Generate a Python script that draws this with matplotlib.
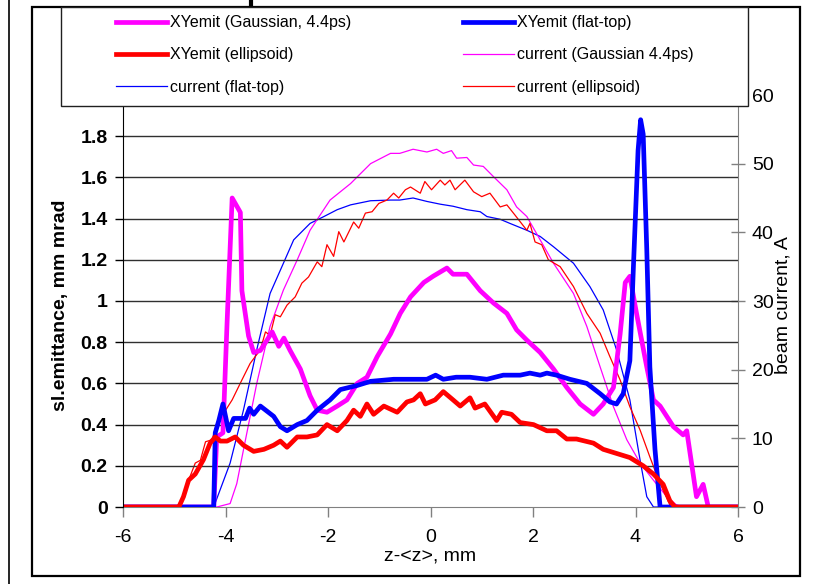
import numpy as np
import matplotlib
matplotlib.use("Agg")
import matplotlib.pyplot as plt
from matplotlib.lines import Line2D
from matplotlib.patches import Rectangle

plt.rcParams['font.family'] = ['Liberation Sans', 'DejaVu Sans']
plt.rcParams['axes.unicode_minus'] = False

# slice emittance, mm mrad
z_emit_gauss = [-6, -4.23, -4.17, -4.05, -3.97, -3.87, -3.71, -3.68, -3.55, -3.45, -3.32, -3.19, -3.09, -2.96,
                -2.86, -2.74, -2.54, -2.35, -2.21, -2.02, -1.82, -1.63, -1.43, -1.24, -1.04, -0.78, -0.59, -0.39,
                -0.13, 0.05, 0.32, 0.44, 0.71, 0.97, 1.23, 1.49, 1.68, 1.88, 2.14, 2.40, 2.66, 2.92, 3.18, 3.37,
                3.57, 3.70, 3.80, 3.89, 4.02, 4.22, 4.35, 4.48, 4.74, 4.93, 5.00, 5.19, 5.32, 5.42, 6]
emit_gauss = [0, 0, 0.34, 0.36, 0.89, 1.50, 1.43, 1.05, 0.83, 0.75, 0.76, 0.81, 0.85, 0.78,
              0.82, 0.76, 0.67, 0.54, 0.47, 0.46, 0.49, 0.52, 0.60, 0.63, 0.73, 0.84, 0.94, 1.02,
              1.09, 1.12, 1.16, 1.13, 1.13, 1.05, 0.99, 0.94, 0.86, 0.81, 0.75, 0.67, 0.58, 0.50, 0.45, 0.50,
              0.58, 0.84, 1.09, 1.12, 0.94, 0.68, 0.52, 0.49, 0.39, 0.35, 0.37, 0.05, 0.11, 0, 0]

z_emit_flat = [-6, -4.23, -4.20, -4.13, -4.05, -3.94, -3.84, -3.61, -3.53, -3.45, -3.32, -3.06, -2.93, -2.80,
               -2.60, -2.41, -2.21, -1.96, -1.76, -1.43, -1.17, -0.72, -0.33, -0.07, 0.10, 0.25, 0.50, 0.77,
               1.10, 1.42, 1.75, 1.94, 2.14, 2.27, 2.46, 2.72, 3.05, 3.31, 3.50, 3.63, 3.76, 3.89, 3.96, 4.05,
               4.10, 4.15, 4.22, 4.28, 4.38, 4.48, 6]
emit_flat = [0, 0, 0.36, 0.42, 0.50, 0.37, 0.43, 0.43, 0.48, 0.45, 0.49, 0.44, 0.39, 0.37,
             0.40, 0.42, 0.47, 0.52, 0.57, 0.59, 0.61, 0.62, 0.62, 0.62, 0.64, 0.62, 0.63, 0.63,
             0.62, 0.64, 0.64, 0.65, 0.64, 0.65, 0.64, 0.62, 0.60, 0.55, 0.51, 0.50, 0.55, 0.71, 1.17, 1.73,
             1.88, 1.81, 1.25, 0.68, 0.28, 0, 0]

z_emit_ell = [-6, -4.91, -4.82, -4.72, -4.59, -4.43, -4.30, -4.20, -4.10, -3.97, -3.81, -3.65, -3.45, -3.25,
              -3.06, -2.93, -2.80, -2.60, -2.41, -2.21, -2.02, -1.82, -1.63, -1.50, -1.37, -1.24, -1.11, -0.91,
              -0.65, -0.46, -0.33, -0.20, -0.10, 0.09, 0.25, 0.44, 0.58, 0.77, 0.87, 1.06, 1.29, 1.39, 1.58,
              1.75, 2.01, 2.27, 2.46, 2.66, 2.85, 3.18, 3.37, 3.63, 3.89, 4.15, 4.35, 4.54, 4.67, 4.77, 6]
emit_ell = [0, 0, 0.05, 0.13, 0.16, 0.23, 0.31, 0.34, 0.32, 0.32, 0.34, 0.30, 0.27, 0.28,
            0.30, 0.32, 0.29, 0.34, 0.34, 0.35, 0.40, 0.37, 0.42, 0.47, 0.44, 0.50, 0.45, 0.49,
            0.46, 0.51, 0.52, 0.55, 0.50, 0.52, 0.56, 0.52, 0.49, 0.53, 0.48, 0.50, 0.42, 0.46, 0.45,
            0.41, 0.40, 0.37, 0.37, 0.33, 0.33, 0.31, 0.28, 0.26, 0.24, 0.20, 0.16, 0.11, 0.03, 0, 0]

# beam current, A
z_cur_flat = [-6, -4.23, -3.91, -3.65, -3.39, -3.13, -2.87, -2.67, -2.35, -2.08, -1.82, -1.56, -1.17, -0.78,
              -0.60, -0.34, -0.07, 0.19, 0.44, 0.71, 0.97, 1.10, 1.36, 1.55, 1.88, 2.14, 2.40, 2.79, 3.11,
              3.37, 3.63, 3.89, 4.09, 4.22, 4.35, 6]
cur_flat = [0, 0, 6.4, 14.1, 22.9, 31.1, 35.5, 38.9, 41.3, 42.3, 43.3, 44.0, 44.6, 44.7,
            44.7, 45.0, 44.5, 44.1, 43.8, 43.3, 43.0, 42.3, 41.9, 41.3, 40.3, 39.4, 37.9, 35.5, 32.1,
            28.7, 22.9, 15.6, 6.8, 1.5, 0, 0]

z_cur_gauss = [-6, -4.17, -3.91, -3.78, -3.65, -3.39, -3.13, -2.87, -2.60, -2.35, -1.96, -1.56, -1.17, -0.78,
               -0.60, -0.34, -0.07, 0.12, 0.25, 0.41, 0.51, 0.71, 0.84, 1.03, 1.23, 1.49, 1.68, 1.88, 2.14,
               2.40, 2.79, 3.05, 3.31, 3.57, 3.83, 4.09, 4.35, 4.61, 4.80, 4.95, 6]
cur_gauss = [0, 0, 0.5, 3.4, 8.3, 18.0, 26.3, 31.6, 36.0, 40.3, 44.7, 47.1, 50.0, 51.5,
             51.5, 52.1, 51.7, 52.1, 51.5, 51.9, 50.8, 50.9, 49.8, 49.6, 48.1, 46.2, 43.7, 42.3, 38.9,
             35.5, 31.1, 26.3, 20.4, 14.6, 9.8, 6.4, 3.9, 1.5, 0.3, 0, 0]

z_cur_ell = [-6, -4.95, -4.82, -4.72, -4.59, -4.49, -4.39, -4.26, -4.17, -4.04, -3.87, -3.68, -3.52, -3.32,
             -3.22, -3.13, -3.03, -2.93, -2.80, -2.64, -2.51, -2.38, -2.21, -2.12, -2.02, -1.89, -1.79, -1.69,
             -1.50, -1.40, -1.27, -1.14, -1.01, -0.85, -0.72, -0.62, -0.49, -0.39, -0.20, -0.11, 0.02, 0.19,
             0.28, 0.38, 0.48, 0.67, 0.84, 1.00, 1.16, 1.36, 1.49, 1.65, 1.88, 1.94, 2.04, 2.17, 2.30, 2.53,
             2.79, 3.05, 3.31, 3.50, 3.70, 3.89, 4.09, 4.28, 4.48, 4.67, 4.80, 6]
cur_ell = [0, 0, 1.5, 3.9, 6.4, 6.8, 9.5, 9.8, 12.2, 13.6, 15.6, 18.5, 20.9, 22.9,
           25.5, 25.0, 28.0, 27.7, 29.4, 30.6, 32.6, 33.5, 35.7, 35.0, 38.2, 36.5, 40.1, 38.6,
           41.5, 40.6, 42.8, 43.0, 44.2, 44.7, 45.7, 45.0, 46.2, 46.6, 45.7, 47.4, 46.2, 47.6,
           46.9, 47.6, 46.2, 47.6, 45.9, 45.2, 45.7, 43.7, 44.0, 42.5, 40.3, 41.3, 38.6, 38.2, 36.0, 35.0,
           32.1, 28.2, 25.3, 21.9, 18.5, 14.6, 11.2, 7.3, 3.4, 0.3, 0, 0]

emit_ticks = [0, 0.2, 0.4, 0.6, 0.8, 1, 1.2, 1.4, 1.6, 1.8]
emit_labels = ['0', '0.2', '0.4', '0.6', '0.8', '1', '1.2', '1.4', '1.6', '1.8']
cur_ticks = [0, 10, 20, 30, 40, 50, 60]
z_ticks = [-6, -4, -2, 0, 2, 4, 6]

W, H = 817, 584
fig = plt.figure(figsize=(W / 100, H / 100), dpi=100)

# back axes: current (right scale); front axes: emittance (left scale)
axc = fig.add_axes([123 / W, 1 - 507 / H, 615 / W, 412 / H])
axe = axc.twinx()
axe.yaxis.tick_left()
axe.yaxis.set_label_position('left')
axc.yaxis.tick_right()
axc.yaxis.set_label_position('right')

thin = 0.9
thick = 3.4
l_cf, = axc.plot(z_cur_flat, cur_flat, color='#0000ff', lw=thin)
l_cg, = axc.plot(z_cur_gauss, cur_gauss, color='#ff00ff', lw=thin)
l_ce, = axc.plot(z_cur_ell, cur_ell, color='#ff0000', lw=thin)

l_eg, = axe.plot(z_emit_gauss, emit_gauss, color='#ff00ff', lw=thick, solid_joinstyle='round')
l_ef, = axe.plot(z_emit_flat, emit_flat, color='#0000ff', lw=thick, solid_joinstyle='round')
l_ee, = axe.plot(z_emit_ell, emit_ell, color='#ff0000', lw=thick, solid_joinstyle='round')

axc.set_xlim(-6, 6)
axc.set_ylim(0, 60)
axe.set_ylim(0, 2)

# gridlines every 0.2 mm mrad
for g in emit_ticks[1:] + [2.0]:
    axe.axhline(g, color='#303030', lw=1, zorder=0.5)

axe.set_yticks(emit_ticks)
axe.set_yticklabels(emit_labels, fontweight='bold', fontsize=14)
axe.tick_params(axis='y', direction='out', length=6, width=1, color='black', pad=5)
axc.set_yticks(cur_ticks)
axc.tick_params(axis='y', direction='inout', length=10, width=1, color='#808080', labelsize=14, pad=5)
axc.set_xticks(z_ticks)
axc.tick_params(axis='x', direction='out', length=7, width=1, color='#808080', labelsize=14, pad=9)

for s in ['top', 'left']:
    axc.spines[s].set_visible(False)
for s in ['top', 'right', 'bottom']:
    axe.spines[s].set_visible(False)
axc.spines['right'].set_color('#808080')
axc.spines['bottom'].set_color('#808080')
axe.spines['left'].set_color('black')

axe.set_ylabel('sl.emittance, mm mrad', fontsize=14, fontweight='bold', va='center')
axe.yaxis.set_label_coords((60 - 123) / 615, 0.49)
axc.set_ylabel('beam current, A', fontsize=14, va='center', rotation=90)
axc.yaxis.set_label_coords((783 - 123) / 615, 0.49)
axc.set_xlabel('z-<z>, mm', fontsize=14, va='center')
axc.xaxis.set_label_coords(0.5, (507 - 557) / 412)

# chart frame, page edge and cut-off title stroke
fig.add_artist(Rectangle((32 / W, 1 - 576 / H), (800 - 32) / W, (576 - 7) / H, transform=fig.transFigure,
                         fill=False, ec='black', lw=1.6, zorder=4))
fig.add_artist(Line2D([9 / W, 9 / W], [0, 1], transform=fig.transFigure, color='black', lw=1.2))
fig.add_artist(Line2D([251 / W, 251 / W], [1, 1 - 6 / H], transform=fig.transFigure, color='black', lw=3))

# legend box
fig.add_artist(Rectangle((61 / W, 1 - 106 / H), (748 - 61) / W, (106 - 7) / H, transform=fig.transFigure,
                         fc='white', ec='#202020', lw=1, zorder=5))
handles = [l_eg, l_ee, l_cf, l_ef, l_cg, l_ce]
labels = ['XYemit (Gaussian, 4.4ps)', 'XYemit (ellipsoid)', 'current (flat-top)',
          'XYemit (flat-top)', 'current (Gaussian 4.4ps)', 'current (ellipsoid)']
leg = fig.legend(handles, labels, ncol=2, loc='center', mode='expand', frameon=False,
                 bbox_to_anchor=(116 / W, 1 - 106 / H, (694 - 116) / W, (106 - 4) / H),
                 fontsize=11.5, handlelength=3.2, handletextpad=0.2, labelspacing=1.07,
                 borderpad=0, borderaxespad=0)
leg.set_zorder(6)

fig.savefig('out.png', dpi=100)
